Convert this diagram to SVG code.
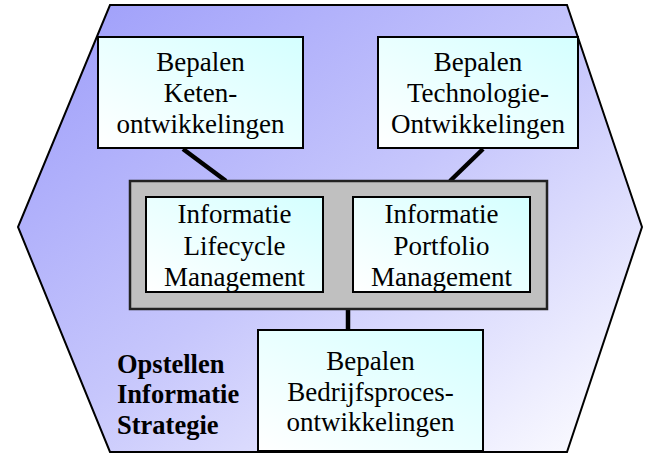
<svg xmlns="http://www.w3.org/2000/svg" width="661" height="454" viewBox="0 0 661 454">
<defs>
<linearGradient id="hexg" x1="0" y1="0" x2="1" y2="1">
<stop offset="0" stop-color="#9c9cfa"/>
<stop offset="0.5" stop-color="#c6c6fc"/>
<stop offset="1" stop-color="#ffffff"/>
</linearGradient>
<linearGradient id="boxg" x1="1" y1="0" x2="0" y2="1">
<stop offset="0" stop-color="#d4ffff"/>
<stop offset="1" stop-color="#ffffff"/>
</linearGradient>
<style>
.box{fill:url(#boxg);stroke:#000;stroke-width:2}
.t{font-family:"Liberation Serif","Times New Roman",serif;font-size:27px;fill:#000;text-anchor:middle}
.b{font-family:"Liberation Serif","Times New Roman",serif;font-size:26.5px;font-weight:bold;fill:#000}
.con{stroke:#000;stroke-width:4.5;fill:none}
</style>
</defs>
<g id="hexagon">
<polygon points="110,5 567,5 642,227 567,452 110,452 18,227" fill="url(#hexg)" stroke="#000" stroke-width="2"/>
<text class="b" x="117" y="373">Opstellen</text>
<text class="b" x="117" y="403">Informatie</text>
<text class="b" x="117" y="434">Strategie</text>
</g>
<g id="connectors">
<line class="con" x1="183" y1="149" x2="226" y2="181"/>
<line class="con" x1="483" y1="149" x2="450" y2="181"/>
<line class="con" x1="348" y1="309" x2="348" y2="330"/>
</g>
<g id="keten">
<rect class="box" x="98" y="37" width="205" height="111"/>
<text class="t" x="200.5" y="71">Bepalen</text>
<text class="t" x="200.5" y="102">Keten-</text>
<text class="t" x="200.5" y="133">ontwikkelingen</text>
</g>
<g id="technologie">
<rect class="box" x="378" y="37" width="200" height="111"/>
<text class="t" x="478" y="71">Bepalen</text>
<text class="t" x="478" y="102">Technologie-</text>
<text class="t" x="478" y="133">Ontwikkelingen</text>
</g>
<g id="container">
<rect x="130" y="181" width="417" height="128" fill="#c0c0c0" stroke="#222" stroke-width="2.5"/>
</g>
<g id="lifecycle">
<rect class="box" x="146" y="197" width="177" height="95"/>
<text class="t" x="234.5" y="223">Informatie</text>
<text class="t" x="234.5" y="255">Lifecycle</text>
<text class="t" x="234.5" y="286">Management</text>
</g>
<g id="portfolio">
<rect class="box" x="353" y="197" width="177" height="95"/>
<text class="t" x="441.5" y="223">Informatie</text>
<text class="t" x="441.5" y="255">Portfolio</text>
<text class="t" x="441.5" y="286">Management</text>
</g>
<g id="bedrijfsproces">
<rect class="box" x="258" y="330" width="225" height="121"/>
<text class="t" x="370.5" y="370">Bepalen</text>
<text class="t" x="370.5" y="401">Bedrijfsproces-</text>
<text class="t" x="370.5" y="431">ontwikkelingen</text>
</g>
</svg>
